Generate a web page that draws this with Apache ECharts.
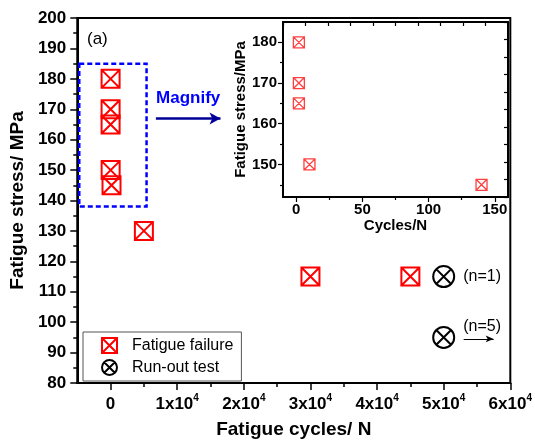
<!DOCTYPE html>
<html>
<head>
<meta charset="utf-8">
<script src="https://cdn.jsdelivr.net/npm/echarts@6/dist/echarts.min.js"></script>
<style>
  html, body { margin: 0; padding: 0; background: #fff; }
  #chart { width: 535px; height: 444px; }
</style>
</head>
<body>
<div id="chart"></div>
<script>
// Fatigue tests: stress vs. number of cycles to failure
const failureCycles = [2, 2, 2, 10, 140, 5000, 30000, 45000];
const failureStress = [180, 170, 165, 150, 145, 130, 115, 115];
const runoutCycles = [50000, 50000];
const runoutStress = [115, 95];
const runoutCount = [1, 5];

// tick values
const mainXMajor = [0, 10000, 20000, 30000, 40000, 50000, 60000];
const mainXMinor = [5000, 15000, 25000, 35000, 45000, 55000];
const insetXMajor = [0, 50, 100, 150];
const insetXMinor = [25, 75, 125];
const insetYMajor = [150, 160, 170, 180];
const insetYMinor = [145, 155, 165, 175];

// region enlarged in the inset
const magnifyBoxX = [-4700, 5400];
const magnifyBoxY = [138, 185];
const insetRangeX = [-10, 160];
const insetRangeY = [142, 185];

const FONT = "'Liberation Sans', Arial, sans-serif";
const RED = '#ff0000';

const failSymbol = 'path://M0,0L20,0L20,20L0,20Z M0,0L20,20 M20,0L0,20';
const runoutSymbol = 'path://M0,10A10,10,0,1,1,20,10A10,10,0,1,1,0,10Z M2.93,2.93L17.07,17.07 M17.07,2.93L2.93,17.07';

const failureData = failureCycles.map((c, i) => [c, failureStress[i]]);
const insetData = failureData.filter(p => p[0] <= insetRangeX[1] && p[1] >= insetRangeY[0]);
const runoutData = runoutCycles.map((c, i) => ({
  value: [c, runoutStress[i]],
  label: i === 0
    ? { show: true, position: 'right', distance: 8 }
    : { show: true, position: 'right', distance: 8, offset: [0, -11] }
}));

const chart = echarts.init(document.getElementById('chart'), null, { renderer: 'canvas' });

const boldLabel = (size) => ({ fontFamily: FONT, fontWeight: 'bold', fontSize: size, color: '#000' });
const blackLine = { show: true, onZero: false, lineStyle: { color: '#000', width: 2 } };
const noLine = { show: false, onZero: false };

const option = {
  animation: false,
  backgroundColor: '#fff',
  title: {
    text: '(a)', left: 82, top: 26,
    textStyle: { fontFamily: FONT, fontWeight: 'normal', fontSize: 17, color: '#000' }
  },
  legend: {
    orient: 'vertical',
    left: 83, top: 332,
    padding: [5, 8, 5, 18],
    itemGap: 5,
    itemWidth: 15, itemHeight: 15,
    borderColor: '#555', borderWidth: 1,
    backgroundColor: '#fff',
    data: ['Fatigue failure', 'Run-out test'],
    textStyle: { fontFamily: FONT, fontSize: 16, color: '#000', padding: [0, 0, 0, 10] }
  },
  grid: [
    { left: 76, top: 18, right: 23, bottom: 61, show: true, borderColor: '#000', borderWidth: 2, backgroundColor: 'transparent' },
    { left: 283, top: 22, width: 225, height: 175, show: true, borderColor: '#000', borderWidth: 2, backgroundColor: '#fff' }
  ],
  xAxis: [
    { // main, major ticks and labels
      type: 'value', gridIndex: 0, position: 'bottom', min: -5000, max: 60000,
      name: 'Fatigue cycles/ N', nameLocation: 'middle', nameGap: 37,
      nameTextStyle: boldLabel(19),
      axisLine: blackLine,
      axisTick: { show: true, length: 7, customValues: mainXMajor, lineStyle: { color: '#000', width: 1.5 } },
      axisLabel: {
        customValues: mainXMajor, margin: 10,
        formatter: v => v === 0 ? '{m|0}' : '{m|' + (v / 10000) + 'x10}{s|4}',
        rich: {
          m: { fontFamily: FONT, fontWeight: 'bold', fontSize: 17, color: '#000', lineHeight: 22 },
          s: { fontFamily: FONT, fontWeight: 'bold', fontSize: 10, color: '#000', verticalAlign: 'top', lineHeight: 10 }
        }
      },
      splitLine: { show: false }
    },
    { // main, minor ticks
      type: 'value', gridIndex: 0, position: 'bottom', min: -5000, max: 60000,
      axisLine: noLine,
      axisTick: { show: true, length: 4, customValues: mainXMinor, lineStyle: { color: '#000', width: 1.5 } },
      axisLabel: { show: false },
      splitLine: { show: false }
    },
    { // inset bottom
      type: 'value', gridIndex: 1, position: 'bottom', min: insetRangeX[0], max: insetRangeX[1],
      name: 'Cycles/N', nameLocation: 'middle', nameGap: 18,
      nameTextStyle: boldLabel(15),
      axisLine: blackLine,
      axisTick: { show: true, length: 5, customValues: insetXMajor, lineStyle: { color: '#000', width: 1.2 } },
      axisLabel: { customValues: insetXMajor, margin: 5, ...boldLabel(15) },
      splitLine: { show: false }
    },
    { // inset bottom minor
      type: 'value', gridIndex: 1, position: 'bottom', min: insetRangeX[0], max: insetRangeX[1],
      axisLine: noLine,
      axisTick: { show: true, length: 3, customValues: insetXMinor, lineStyle: { color: '#000', width: 1.2 } },
      axisLabel: { show: false },
      splitLine: { show: false }
    },
    { // inset top, inward ticks
      type: 'value', gridIndex: 1, position: 'top', min: insetRangeX[0], max: insetRangeX[1], interval: 17,
      axisLine: blackLine,
      axisTick: { show: true, inside: true, length: 4, lineStyle: { color: '#000', width: 1.2 } },
      axisLabel: { show: false },
      splitLine: { show: false }
    }
  ],
  yAxis: [
    { // main
      type: 'value', gridIndex: 0, position: 'left', min: 80, max: 200, interval: 10,
      name: 'Fatigue stress/ MPa', nameLocation: 'middle', nameGap: 42,
      nameTextStyle: boldLabel(19),
      axisLine: blackLine,
      axisTick: { show: true, length: 7, lineStyle: { color: '#000', width: 1.5 } },
      minorTick: { show: true, splitNumber: 2, length: 4, lineStyle: { color: '#000', width: 1.5 } },
      axisLabel: { margin: 11, ...boldLabel(17) },
      splitLine: { show: false }
    },
    { // inset left
      type: 'value', gridIndex: 1, position: 'left', min: insetRangeY[0], max: insetRangeY[1],
      name: 'Fatigue stress/MPa', nameLocation: 'middle', nameGap: 34,
      nameTextStyle: boldLabel(15),
      axisLine: blackLine,
      axisTick: { show: true, length: 5, customValues: insetYMajor, lineStyle: { color: '#000', width: 1.2 } },
      axisLabel: { customValues: insetYMajor, margin: 6, ...boldLabel(15) },
      splitLine: { show: false }
    },
    { // inset left minor
      type: 'value', gridIndex: 1, position: 'left', min: insetRangeY[0], max: insetRangeY[1],
      axisLine: noLine,
      axisTick: { show: true, length: 3, customValues: insetYMinor, lineStyle: { color: '#000', width: 1.2 } },
      axisLabel: { show: false },
      splitLine: { show: false }
    },
    { // inset right, inward ticks
      type: 'value', gridIndex: 1, position: 'right', min: insetRangeY[0], max: insetRangeY[1], interval: 4.3,
      axisLine: blackLine,
      axisTick: { show: true, inside: true, length: 4, lineStyle: { color: '#000', width: 1.2 } },
      axisLabel: { show: false },
      splitLine: { show: false }
    }
  ],
  series: [
    {
      name: 'Fatigue failure', type: 'scatter', xAxisIndex: 0, yAxisIndex: 0,
      symbol: failSymbol, symbolSize: 18,
      itemStyle: { color: 'rgba(0,0,0,0)', borderColor: RED, borderWidth: 2, opacity: 1 },
      data: failureData,
      z: 3,
      markArea: {
        silent: true,
        itemStyle: { color: 'rgba(0,0,0,0)', borderColor: '#0000ff', borderWidth: 2.5, borderType: [5, 3] },
        label: { show: false },
        data: [[{ coord: [magnifyBoxX[0], magnifyBoxY[1]] }, { coord: [magnifyBoxX[1], magnifyBoxY[0]] }]]
      },
      markLine: {
        silent: true,
        symbol: ['none', 'arrow'], symbolSize: [9, 11],
        lineStyle: { color: '#000099', width: 2.5, type: 'solid' },
        label: {
          show: true, position: 'insideMiddleTop', distance: 12,
          formatter: 'Magnify',
          fontFamily: FONT, fontWeight: 'bold', fontSize: 17, color: '#0000ff'
        },
        data: [[{ coord: [6800, 167] }, { coord: [16500, 167] }]]
      }
    },
    {
      name: 'Run-out test', type: 'scatter', xAxisIndex: 0, yAxisIndex: 0,
      symbol: runoutSymbol, symbolSize: 21,
      itemStyle: { color: 'rgba(0,0,0,0)', borderColor: '#000', borderWidth: 2, opacity: 1 },
      label: {
        show: true,
        formatter: p => '(n=' + runoutCount[p.dataIndex] + ')',
        fontFamily: FONT, fontSize: 16, color: '#000'
      },
      data: runoutData,
      z: 3,
      markLine: {
        silent: true,
        symbol: ['none', 'arrow'], symbolSize: [5, 8],
        lineStyle: { color: '#000', width: 1, type: 'solid' },
        label: { show: false },
        data: [[{ coord: [runoutCycles[1] + 3000, runoutStress[1] - 0.5] }, { coord: [runoutCycles[1] + 7500, runoutStress[1] - 0.5] }]]
      }
    },
    {
      name: 'inset', type: 'scatter', xAxisIndex: 2, yAxisIndex: 1,
      symbol: failSymbol, symbolSize: 11,
      itemStyle: { color: 'rgba(0,0,0,0)', borderColor: '#ff4040', borderWidth: 1.3, opacity: 1 },
      data: insetData,
      z: 4
    }
  ]
};

chart.setOption(option);
</script>
</body>
</html>
